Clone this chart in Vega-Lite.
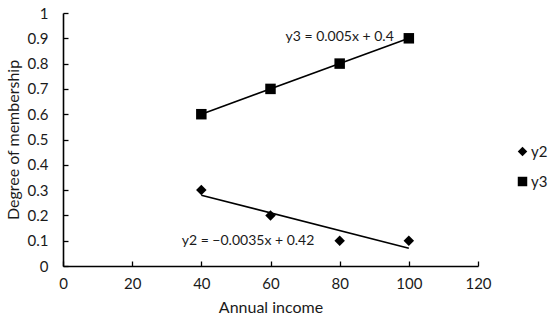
{
  "$schema": "https://vega.github.io/schema/vega-lite/v6.json",
  "autosize": {"type": "none"},
  "width": 415,
  "height": 253,
  "padding": {"left": 63, "top": 13, "right": 72, "bottom": 55},
  "background": "white",
  "config": {
    "view": {"stroke": null},
    "font": "Lato",
    "axis": {"labelFont": "Lato", "titleFont": "Lato", "labelColor": "#1a1a1a", "titleColor": "#1a1a1a", "labelFontSize": 15, "titleFontSize": 16, "titleFontWeight": "normal", "domainColor": "black", "domainWidth": 1.6, "tickColor": "black", "tickWidth": 1.3, "tickSize": -5, "grid": false, "labelOverlap": false, "labelFlush": false}
  },
  "datasets": {
    "points": [
      {"income": 40, "membership": 0.3, "series": "y2"},
      {"income": 60, "membership": 0.2, "series": "y2"},
      {"income": 80, "membership": 0.1, "series": "y2"},
      {"income": 100, "membership": 0.1, "series": "y2"},
      {"income": 40, "membership": 0.6, "series": "y3"},
      {"income": 60, "membership": 0.7, "series": "y3"},
      {"income": 80, "membership": 0.8, "series": "y3"},
      {"income": 100, "membership": 0.9, "series": "y3"}
    ],
    "trend": [
      {"income": 40, "membership": 0.28, "series": "y2"},
      {"income": 100, "membership": 0.07, "series": "y2"},
      {"income": 40, "membership": 0.6, "series": "y3"},
      {"income": 100, "membership": 0.9, "series": "y3"}
    ],
    "labels": [
      {"income": 80, "membership": 0.905, "label": "y3 = 0.005x + 0.4"},
      {"income": 53.5, "membership": 0.099, "label": "y2 = −0.0035x + 0.42"}
    ]
  },
  "encoding": {
    "x": {"field": "income", "type": "quantitative", "scale": {"domain": [0, 120], "nice": false},
      "axis": {"title": "Annual income", "values": [0, 20, 40, 60, 80, 100, 120], "format": "d", "labelOverlap": false, "labelPadding": 15, "titlePadding": 8}},
    "y": {"field": "membership", "type": "quantitative", "scale": {"domain": [0, 1], "nice": false},
      "axis": {"title": "Degree of membership", "values": [0, 0.1, 0.2, 0.3, 0.4, 0.5, 0.6, 0.7, 0.8, 0.9, 1], "tickCount": 11, "format": ".1~f", "labelOverlap": false, "labelPadding": 20, "titlePadding": 6}}
  },
  "layer": [
    {
      "data": {"name": "trend"},
      "mark": {"type": "line", "color": "black", "strokeWidth": 1.6},
      "encoding": {"detail": {"field": "series"}}
    },
    {
      "data": {"name": "points"},
      "mark": {"type": "point", "filled": true, "opacity": 1, "size": 110},
      "encoding": {
        "shape": {"field": "series", "type": "nominal", "scale": {"domain": ["y2", "y3"], "range": ["diamond", "square"]},
          "legend": {"title": null, "orient": "none", "legendX": 452, "legendY": 131, "labelFont": "Lato", "labelFontSize": 15, "labelColor": "#1a1a1a", "rowPadding": 13, "symbolSize": 90, "symbolFillColor": "black", "symbolStrokeColor": "black", "labelOffset": 1}},
        "color": {"value": "black"}
      }
    },
    {
      "data": {"name": "labels"},
      "mark": {"type": "text", "font": "Lato", "fontSize": 14, "color": "#1a1a1a"},
      "encoding": {"text": {"field": "label"}}
    }
  ]
}
